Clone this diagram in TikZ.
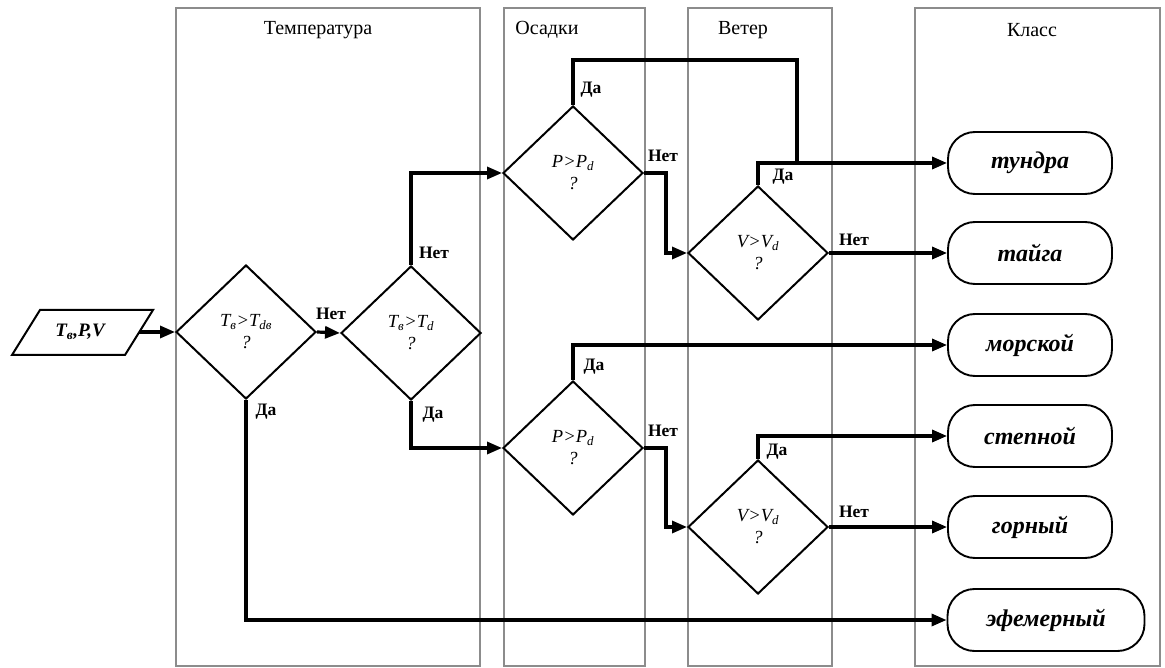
\documentclass[tikz,border=0pt]{standalone}
\usepackage{fontspec}
\setmainfont{Liberation Serif}
\usetikzlibrary{arrows.meta,shapes.geometric}
\begin{document}
\begin{tikzpicture}[x=1pt,y=-1pt,
 lane/.style={draw=black!45, line width=1.6pt},
 hdr/.style={font=\fontsize{20}{22}\selectfont},
 dec/.style={draw, diamond, line width=2pt, minimum width=140pt, minimum height=134pt, inner sep=0pt, align=center, font=\fontsize{18.5}{22}\selectfont\itshape},
 cls/.style={draw, rounded corners=27pt, line width=1.9pt, minimum width=164pt, minimum height=62pt, font=\fontsize{24}{26}\selectfont\bfseries\itshape},
 conn/.style={line width=3.2pt},
 arr/.style={conn, -{Triangle[length=15pt,width=12pt]}},
 lbl/.style={font=\fontsize{17.5}{19}\selectfont\bfseries, inner sep=0pt}
]
\useasboundingbox (0,0) rectangle (1165,668);
% lanes
\draw[lane] (176,8) rectangle (480,666);
\draw[lane] (504,8) rectangle (645,666);
\draw[lane] (688,8) rectangle (832,666);
\draw[lane] (915,8) rectangle (1160,666);
\node[hdr] (hT) at (318,30) {Температура};
\node[hdr] (hO) at (547,30) {Осадки};
\node[hdr] (hV) at (743,30) {Ветер};
\node[hdr] (hK) at (1032,30) {Класс};
% input
\draw[line width=2pt] (12,355) -- (40,310) -- (153,310) -- (125,355) -- cycle;
\node[font=\fontsize{19}{21}\selectfont\bfseries\itshape] (inp) at (80,332) {T\textsubscript{в},P,V};
\coordinate (inpR) at (139,332);
% decisions
\node[dec] (d1) at (246,332) {T\textsubscript{в}>T\textsubscript{dв}\\?};
\node[dec] (d2) at (411,333) {T\textsubscript{в}>T\textsubscript{d}\\?};
\node[dec] (d3) at (573,173) {P>P\textsubscript{d}\\?};
\node[dec] (d4) at (758,253) {V>V\textsubscript{d}\\?};
\node[dec] (d5) at (573,448) {P>P\textsubscript{d}\\?};
\node[dec] (d6) at (758,527) {V>V\textsubscript{d}\\?};
% classes
\node[cls] (c1) at (1030,163) {тундра};
\node[cls] (c2) at (1030,253) {тайга};
\node[cls] (c3) at (1030,345) {морской};
\node[cls] (c4) at (1030,436) {степной};
\node[cls] (c5) at (1030,527) {горный};
\node[cls, minimum width=197pt] (c6) at (1046,620) {эфемерный};
% helper coordinates
\coordinate (d3up) at (573,60);
\coordinate (j1) at (797,163);
% connectors
\draw[arr] (inpR) -- (d1.west);
\draw[arr] (d1.east) -- (d2.west);
\draw[arr] (d2.north) |- (d3.west);
\draw[arr] (d2.south) |- (d5.west);
\draw[arr] (d1.south) |- (c6.west);
\draw[conn] (d3.north) -- (d3up) -| (j1);
\draw[arr] (d4.north) |- (c1.west);
\draw[arr] (d3.east) -- ++(22,0) |- (d4.west);
\draw[arr] (d4.east) -- (c2.west);
\draw[arr] (d5.north) |- (c3.west);
\draw[arr] (d5.east) -- ++(22,0) |- (d6.west);
\draw[arr] (d6.north) |- (c4.west);
\draw[arr] (d6.east) -- (c5.west);
% labels
\node[lbl] (l1) at (331,314) {Нет};
\node[lbl] (l2) at (266,412) {Да};
\node[lbl] (l3) at (434,253) {Нет};
\node[lbl] (l4) at (433,415) {Да};
\node[lbl] (l5) at (591,90) {Да};
\node[lbl] (l6) at (663,156) {Нет};
\node[lbl] (l7) at (783,177) {Да};
\node[lbl] (l8) at (854,240) {Нет};
\node[lbl] (l9) at (594,367) {Да};
\node[lbl] (l10) at (663,431) {Нет};
\node[lbl] (l11) at (777,452) {Да};
\node[lbl] (l12) at (854,512) {Нет};
\end{tikzpicture}
\end{document}
